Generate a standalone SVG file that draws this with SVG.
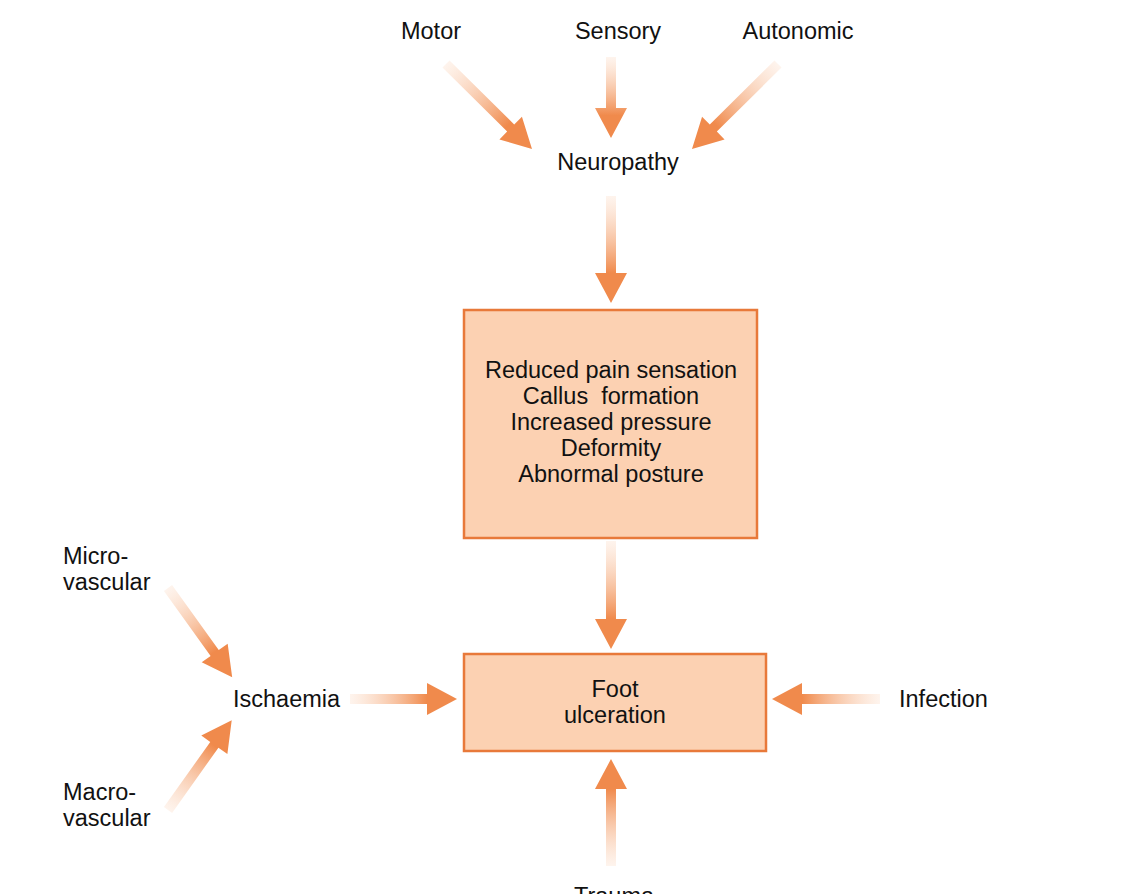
<svg xmlns="http://www.w3.org/2000/svg" width="1128" height="894" viewBox="0 0 1128 894">
<style>
text{font-family:"Liberation Sans",Arial,Helvetica,sans-serif;font-size:23.5px;fill:#111}
.c{text-anchor:middle}
.box{fill:#FCD1B2;stroke:#E8793A;stroke-width:2.5}
.arr{fill:url(#ag)}
</style>
<defs>
<linearGradient id="ag" x1="0" y1="0" x2="1" y2="0">
<stop offset="0" stop-color="#FBD3B8" stop-opacity="0.25"/>
<stop offset="0.72" stop-color="#F08A4C"/>
<stop offset="1" stop-color="#F08A4C"/>
</linearGradient>
</defs>
<rect width="1128" height="894" fill="#fff"/>
<g id="connectors">
<path class="arr" transform="translate(446,64) rotate(44.7)" d="M0,-5 H91 V-16 L121,0 L91,16 V5 H0 Z"/>
<path class="arr" transform="translate(611,57) rotate(90)" d="M0,-5 H51 V-16 L81,0 L51,16 V5 H0 Z"/>
<path class="arr" transform="translate(778,64) rotate(135.3)" d="M0,-5 H91 V-16 L121,0 L91,16 V5 H0 Z"/>
<path class="arr" transform="translate(611,196) rotate(90)" d="M0,-5 H77 V-16 L107,0 L77,16 V5 H0 Z"/>
<path class="arr" transform="translate(611,541) rotate(90)" d="M0,-5 H78 V-16 L108,0 L78,16 V5 H0 Z"/>
<path class="arr" transform="translate(350,699)" d="M0,-5 H77 V-16 L107,0 L77,16 V5 H0 Z"/>
<path class="arr" transform="translate(880,699) rotate(180)" d="M0,-5 H78 V-16 L108,0 L78,16 V5 H0 Z"/>
<path class="arr" transform="translate(611,866) rotate(-90)" d="M0,-5 H77 V-16 L107,0 L77,16 V5 H0 Z"/>
<path class="arr" transform="translate(168,588) rotate(54.3)" d="M0,-5 H80 V-16 L110,0 L80,16 V5 H0 Z"/>
<path class="arr" transform="translate(168,810) rotate(-54.6)" d="M0,-5 H80 V-16 L110,0 L80,16 V5 H0 Z"/>
</g>
<g id="motor"><text class="c" x="431" y="39">Motor</text></g>
<g id="sensory"><text class="c" x="618" y="39">Sensory</text></g>
<g id="autonomic"><text class="c" x="798" y="39">Autonomic</text></g>
<g id="neuropathy"><text class="c" x="618" y="170">Neuropathy</text></g>
<g id="effects">
<rect class="box" x="464" y="310" width="293" height="228"/>
<text class="c" x="611" y="378">Reduced pain sensation</text>
<text class="c" x="611" y="404" xml:space="preserve">Callus  formation</text>
<text class="c" x="611" y="430">Increased pressure</text>
<text class="c" x="611" y="456">Deformity</text>
<text class="c" x="611" y="482">Abnormal posture</text>
</g>
<g id="ulceration">
<rect class="box" x="464" y="654" width="302" height="97"/>
<text class="c" x="615" y="697">Foot</text>
<text class="c" x="615" y="723">ulceration</text>
</g>
<g id="microvascular"><text x="63" y="564">Micro-</text><text x="63" y="590">vascular</text></g>
<g id="macrovascular"><text x="63" y="800">Macro-</text><text x="63" y="826">vascular</text></g>
<g id="ischaemia"><text x="233" y="707">Ischaemia</text></g>
<g id="infection"><text x="899" y="707">Infection</text></g>
<g id="trauma"><text class="c" x="614" y="904">Trauma</text></g>
</svg>
